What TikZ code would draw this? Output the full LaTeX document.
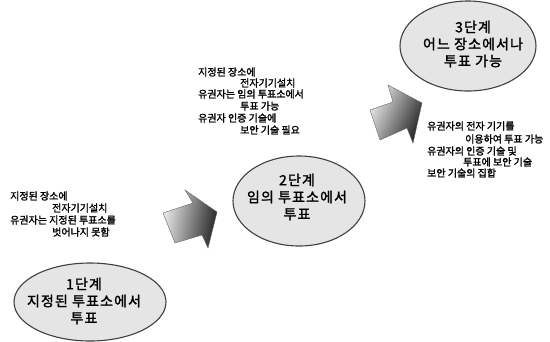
\documentclass[tikz,border=0pt]{standalone}
\usepackage{fontspec}
\newfontfamily\kr{Noto Sans CJK KR}[FakeBold=1.8]
\newfontfamily\krwide{Noto Sans CJK KR}[FakeBold=1.8, LetterSpace=8]
\usetikzlibrary{shapes.geometric}
\begin{document}
\begin{tikzpicture}[x=1pt,y=-1pt,
  stagetext/.style={font=\krwide\fontsize{14}{17}\selectfont, align=center, text=black, inner sep=0pt},
  note/.style={font=\kr\fontsize{10}{12}\selectfont, anchor=west, inner sep=0pt, text=black},
  ell/.style={draw=black!75, line width=1.1pt, fill=black!10},
  blockarrow/.style={draw=black!60, line width=0.4pt, left color=black!8, right color=black!85}
]
\useasboundingbox (0,0) rectangle (550,341);
% stage ellipses
\draw[ell] (90,302) ellipse (76pt and 39pt);
\draw[ell] (299,201) ellipse (66pt and 45pt);
\draw[ell] (468,46) ellipse (68pt and 45pt);
\node[stagetext] (s1) at (84,301) {1단계\\지정된 투표소에서\\투표};
\node[stagetext] (s2) at (297,197) {2단계\\임의 투표소에서\\투표};
\node[stagetext] (s3) at (473,44) {3단계\\어느 장소에서나\\투표 가능};
% block arrows
\path[blockarrow, shading angle=80] (163,213) -- (193,203) -- (185,190) -- (217,212) -- (208,248) -- (202,235) -- (175,243) -- cycle;
\path[blockarrow, shading angle=65] (370,110) -- (393,102) -- (388,85) -- (422,103) -- (413,143) -- (407,128) -- (380,140) -- cycle;
% notes stage 1
\node[note] (a1) at (10,196) {지정된 장소에};
\node[note] (a2) at (52,208) {전자기기설치};
\node[note] (a3) at (10,220) {유권자는 지정된 투표소를};
\node[note] (a4) at (52,232) {벗어나지 못함};
% notes stage 2
\node[note] (b1) at (198,72) {지정된 장소에};
\node[note] (b2) at (240,83) {전자기기설치};
\node[note] (b3) at (198,94) {유권자는 임의 투표소에서};
\node[note] (b4) at (240,106) {투표 가능};
\node[note] (b5) at (198,118) {유권자 인증 기술에};
\node[note] (b6) at (240,130) {보안 기술 필요};
% notes stage 3
\node[note] (c1) at (427,126) {유권자의 전자 기기를};
\node[note] (c2) at (465,139) {이용하여 투표 가능};
\node[note] (c3) at (427,151) {유권자의 인증 기술 및};
\node[note] (c4) at (463,162) {투표에 보안 기술};
\node[note] (c5) at (427,173) {보안 기술의 집합};
\end{tikzpicture}
\end{document}
